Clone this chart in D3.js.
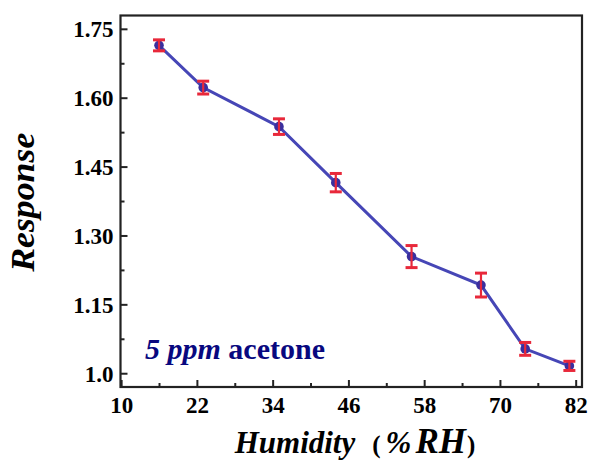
<!DOCTYPE html>
<html>
<head>
<meta charset="utf-8">
<script src="https://cdn.jsdelivr.net/npm/d3@7"></script>
<style>
  html, body { margin: 0; padding: 0; background: #fff; }
  svg { display: block; }
</style>
</head>
<body>
<svg id="chart" width="592" height="466"></svg>
<script>
// Humidity levels (%RH) and sensor response to 5 ppm acetone
const humidity = [16, 23, 35, 44, 56, 67, 74, 81];
const response = [1.714, 1.622, 1.537, 1.415, 1.254, 1.192, 1.053, 1.016];
const errors   = [0.012, 0.014, 0.017, 0.020, 0.024, 0.026, 0.014, 0.010];

const xTicks = [10, 22, 34, 46, 58, 70, 82];
const yTicks = [1.0, 1.15, 1.30, 1.45, 1.60, 1.75];
const yTickLabels = ["1.0", "1.15", "1.30", "1.45", "1.60", "1.75"];

const svg = d3.select("#chart");
const margin = { left: 120.5, right: 10, top: 15.5, bottom: 79 };
const W = 592, H = 466;
const x0 = margin.left, x1 = W - margin.right;
const y0 = H - margin.bottom, y1 = margin.top;

const x = d3.scaleLinear().domain([9.9, 83]).range([x0, x1]);
const y = d3.scaleLinear().domain([0.97, 1.779]).range([y0, y1]);

const serif = '"Liberation Serif", monospace';

// minor ticks halfway between the labelled ones
const xMinor = xTicks.slice(0, -1).map((v, i) => (v + xTicks[i + 1]) / 2);
const yMinor = yTicks.slice(0, -1).map((v, i) => (v + yTicks[i + 1]) / 2);

const axisColor = "#222";

function styleTickText(sel) {
  sel.style("font-family", serif).style("font-weight", "bold")
    .style("font-size", "23px").attr("fill", "#000");
}

// x axis, ticks pointing into the plot
const gx = svg.append("g").attr("transform", `translate(0,${y0})`);
gx.call(d3.axisBottom(x).tickValues(xTicks).tickSize(-7).tickPadding(10).tickFormat(d3.format("d")));
gx.append("g").call(d3.axisBottom(x).tickValues(xMinor).tickSize(-4).tickFormat(""));
gx.selectAll(".domain").remove();
gx.selectAll("line").attr("stroke", axisColor).attr("stroke-width", 2);
styleTickText(gx.selectAll("text"));

// y axis
const gy = svg.append("g").attr("transform", `translate(${x0},0)`);
gy.call(d3.axisLeft(y).tickValues(yTicks).tickSize(-7).tickPadding(7)
  .tickFormat((d, i) => yTickLabels[i]));
gy.append("g").call(d3.axisLeft(y).tickValues(yMinor).tickSize(-4).tickFormat(""));
gy.selectAll(".domain").remove();
gy.selectAll("line").attr("stroke", axisColor).attr("stroke-width", 2);
styleTickText(gy.selectAll("text"));
gy.selectAll("text").attr("dy", "0.34em");

// frame
svg.append("rect")
  .attr("x", x0).attr("y", y1)
  .attr("width", x1 - x0).attr("height", y0 - y1)
  .attr("fill", "none").attr("stroke", axisColor).attr("stroke-width", 2.2);

const pts = humidity.map((h, i) => ({ h, r: response[i], e: errors[i] }));

// connecting line
svg.append("path")
  .datum(pts)
  .attr("fill", "none")
  .attr("stroke", "#4646b6")
  .attr("stroke-width", 3)
  .attr("d", d3.line().x(d => x(d.h)).y(d => y(d.r)));

// markers
svg.selectAll("circle.pt")
  .data(pts).enter().append("circle")
  .attr("class", "pt")
  .attr("cx", d => x(d.h)).attr("cy", d => y(d.r))
  .attr("r", 4.8)
  .attr("fill", "#3a2f9e");

// error bars
const eb = svg.append("g").attr("stroke", "#e8283a").attr("stroke-width", 2.2).attr("fill", "none");
const cap = 6;
pts.forEach(d => {
  const cx = x(d.h);
  eb.append("line").attr("x1", cx).attr("x2", cx).attr("y1", y(d.r - d.e)).attr("y2", y(d.r + d.e));
  eb.append("line").attr("x1", cx - cap).attr("x2", cx + cap).attr("y1", y(d.r + d.e)).attr("y2", y(d.r + d.e)).attr("stroke-width", 3);
  eb.append("line").attr("x1", cx - cap).attr("x2", cx + cap).attr("y1", y(d.r - d.e)).attr("y2", y(d.r - d.e)).attr("stroke-width", 3);
});

// annotation
const note = svg.append("text")
  .attr("x", 145).attr("y", 359)
  .style("font-family", serif).style("font-weight", "bold")
  .style("font-size", "30px").attr("fill", "#08087f");
note.append("tspan").style("font-style", "italic").text("5 ppm");
note.append("tspan").text(" acetone");

// x axis title
const xt = svg.append("text")
  .attr("x", 355).attr("y", 453)
  .attr("text-anchor", "middle")
  .style("font-family", serif).style("font-weight", "bold")
  .style("font-size", "31px").attr("fill", "#000");
xt.append("tspan").style("font-style", "italic").text("Humidity");
xt.append("tspan").attr("dx", 17).style("font-size", "25px").text("(");
xt.append("tspan").attr("dx", 5).style("font-style", "italic").text("%");
xt.append("tspan").attr("dx", 4).style("font-style", "italic").style("font-size", "35px").text("RH");
xt.append("tspan").attr("dx", 1).style("font-size", "25px").text(")");

// y axis title
svg.append("text")
  .attr("transform", `translate(34,${(y0 + y1) / 2 + 1}) rotate(-90)`)
  .attr("text-anchor", "middle")
  .attr("textLength", 139).attr("lengthAdjust", "spacingAndGlyphs")
  .style("font-family", serif).style("font-weight", "bold").style("font-style", "italic")
  .style("font-size", "33px").attr("fill", "#000")
  .text("Response");
</script>
</body>
</html>
